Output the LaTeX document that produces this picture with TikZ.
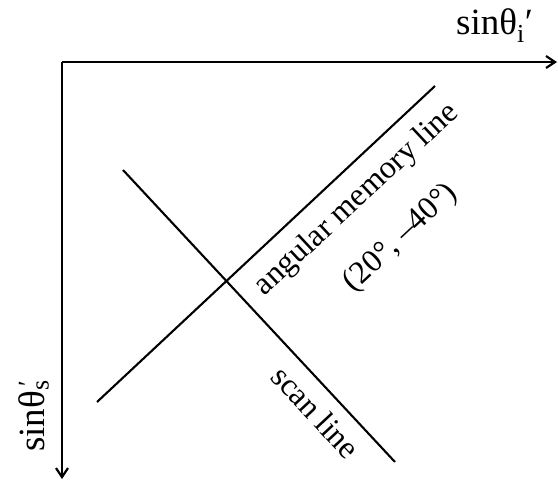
\documentclass[tikz,border=0pt]{standalone}
\usepackage{fontspec}
\setmainfont{Liberation Serif}
\usepackage{tikz}
\usetikzlibrary{positioning,arrows.meta,calc}

\tikzset{
  axis/.style={line width=2.2pt,-{Straight Barb[length=9pt,width=12pt]}},
  trace/.style={line width=2.1pt},
  lbl/.style={font=\fontsize{32}{38}\selectfont,inner sep=0pt},
  axlbl/.style={font=\fontsize{37}{44}\selectfont,inner sep=0pt}
}

\begin{document}
\begin{tikzpicture}[x=1pt,y=-1pt]
\useasboundingbox (0,0) rectangle (558,480);
% axes
\coordinate (origin) at (62,62);
\coordinate (xend) at (557,62);
\coordinate (yend) at (62,479);
\draw[axis] (origin) -- (xend);
\draw[axis] (origin) -- (yend);
\node[axlbl,anchor=base west] (xlabel) at (456,34) {sinθ\textsubscript{i}′};
\node[axlbl,anchor=base west,rotate=90] (ylabel) at (45,452) {sinθ\rlap{\textsubscript{s}}\textsuperscript{\,′}};
% the two lines
\coordinate (mem-a) at (97,402);
\coordinate (mem-b) at (435,86);
\coordinate (scan-a) at (123,170);
\coordinate (scan-b) at (395,462);
\draw[trace] (mem-a) -- (mem-b);
\draw[trace] (scan-a) -- (scan-b);
\node[lbl,rotate=43] (memlabel) at (357,200) {angular memory line};
\node[lbl,rotate=43] (angles) at (401,238) {(20°, –40°)};
\node[lbl,rotate=-47] (scanlabel) at (316,412) {scan line};
\end{tikzpicture}
\end{document}
